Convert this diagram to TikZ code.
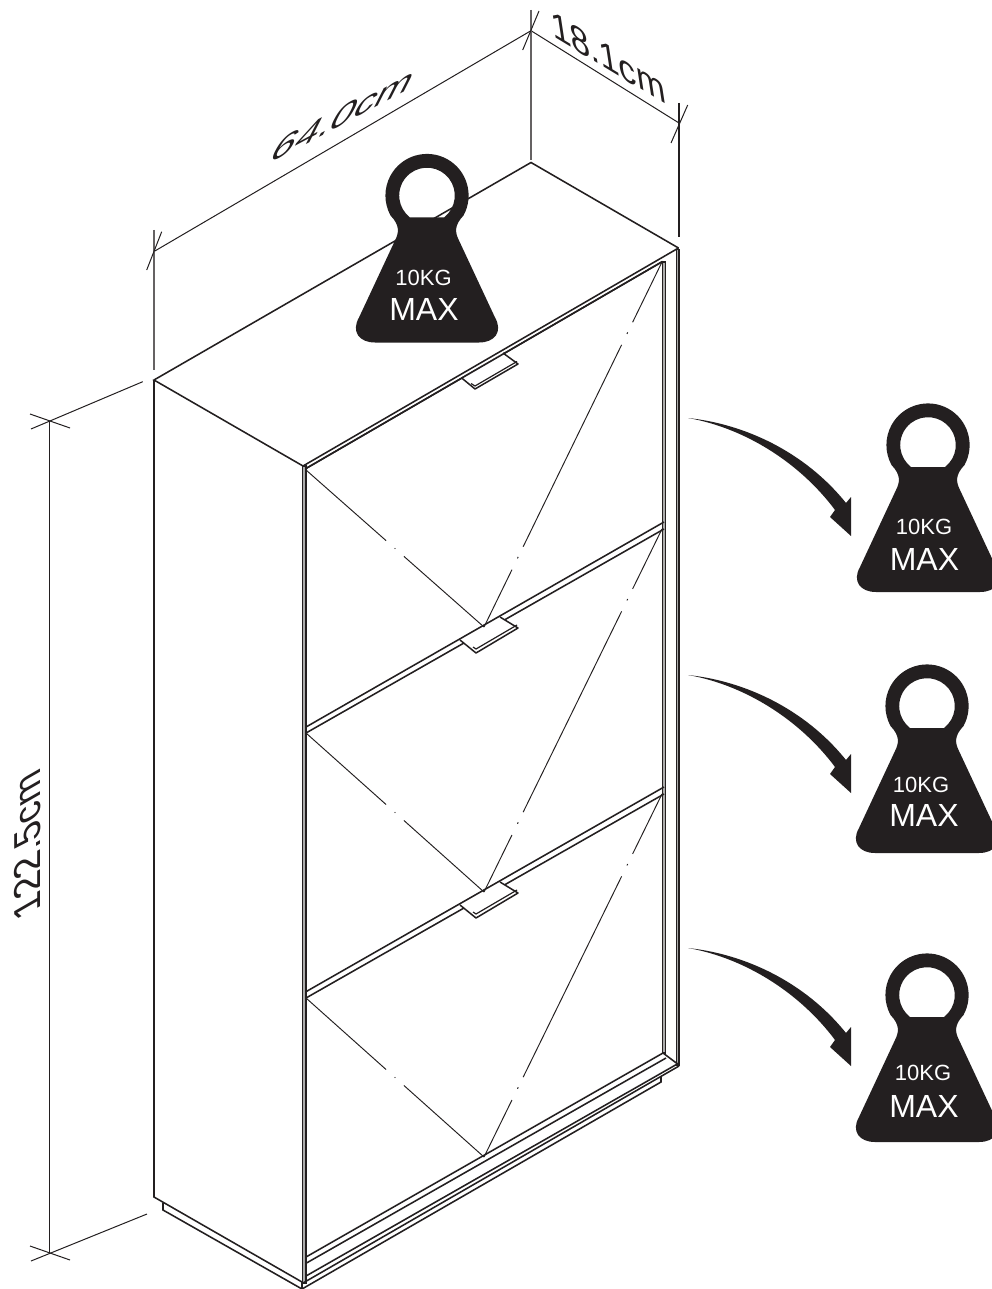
\documentclass[tikz,border=0pt]{standalone}
\usepackage{fontspec}
\setmainfont{Liberation Sans}
\usetikzlibrary{calc}
\definecolor{ink}{HTML}{231F20}
\tikzset{
  edge/.style={draw=ink,line width=1.55pt,line join=miter},
  dimline/.style={draw=ink,line width=1pt},
  guide/.style={draw=ink!70,line width=1.2pt},
  thin diag/.style={draw=ink,line width=0.95pt},
  band/.style={fill=gray!65,draw=ink,line width=1.15pt},
  handlebox/.style={fill=white,draw=ink,line width=1.5pt,line join=round},
  handleinner/.style={draw=ink,line width=1.2pt,line join=round},
  wlabel/.style={text=white,inner sep=0pt},
  dimtext/.style={text=ink,inner sep=0pt,font=\fontsize{30}{30}\selectfont},
  weightbody/.pic={
    \fill[ink,even odd rule,y=1pt]
      (0,-147) -- (52,-147) .. controls (68,-147) and (76,-136) .. (68,-122)
      -- (32,-45) .. controls (28,-37) and (27,-30) .. (36.5,-20)
      arc[start angle=-28.7,end angle=208.7,radius=41.6]
      .. controls (-27,-30) and (-28,-37) .. (-32,-45)
      -- (-68,-122) .. controls (-76,-136) and (-68,-147) .. (-52,-147) -- cycle
      (-17,-22) -- (17,-22) arc[start angle=-52.3,end angle=232.3,radius=27.8] -- cycle;
  },
  swoosh/.pic={
    \fill[ink] (688,418) .. controls (745,424) and (805,452) .. (846,503)
      -- (851,497) -- (851,536) -- (830,517) -- (835,510)
      .. controls (800,463) and (745,428) .. (688,418) -- cycle;
  }
}
\newcommand{\diagleft}[2]{%
  \draw[thin diag] (#1) -- ($(#1)!0.45!(#2)$);
  \draw[thin diag] ($(#1)!0.498!(#2)$) -- ($(#1)!0.502!(#2)$);
  \draw[thin diag] ($(#1)!0.55!(#2)$) -- (#2);
}
\newcommand{\diagright}[2]{%
  \draw[thin diag] (#1) -- ($(#1)!0.157!(#2)$);
  \draw[thin diag] ($(#1)!0.188!(#2)$) -- ($(#1)!0.192!(#2)$);
  \draw[thin diag] ($(#1)!0.22!(#2)$) -- ($(#1)!0.773!(#2)$);
  \draw[thin diag] ($(#1)!0.803!(#2)$) -- ($(#1)!0.807!(#2)$);
  \draw[thin diag] ($(#1)!0.835!(#2)$) -- (#2);
}
\begin{document}
\begin{tikzpicture}[x=1pt,y=-1pt]
\clip (0,0) rectangle (992,1289);
\fill[white] (0,0) rectangle (992,1289);

% dimension lines
\coordinate (dl) at (154,251.5);
\coordinate (dm) at (531,30.7);
\coordinate (dr) at (679,123);
\draw[dimline] (dl) -- (dm) -- (dr);
\draw[guide] (154,230) -- (154,370);
\draw[guide] (531,10) -- (531,160);
\draw[dimline,line width=1.1pt] (679,103) -- (679,237);
\draw[dimline] (161.7,231.7) -- (146.7,270);
\draw[dimline] (539,11) -- (522.7,50);
\draw[dimline] (687.7,105) -- (671,143);

\coordinate (vt) at (49.7,421);
\coordinate (vb) at (49.7,1253);
\draw[dimline] (vt) -- (vb);
\draw[dimline] (31,429) -- (142.7,381.7);
\draw[dimline] (30,414) -- (70,428);
\draw[dimline] (31,1261) -- (147,1214);
\draw[dimline] (30,1246) -- (70,1260);

% cabinet outline
\draw[edge] (303,466) -- (154,380) -- (531,162.5) -- (678.5,248);
\draw[edge] (154,380) -- (154,1197) -- (302,1282);
\draw[edge] (163,1203) -- (163,1210) -- (302,1289) -- (661,1082) -- (661,1077);
\draw[edge] (302,1282) -- (302,1289);

% frame bands
\draw[band] (302.6,466) rectangle (306,1283);
\draw[band] (662.4,262) rectangle (665.4,1053);
\draw[band] (676.3,249.5) rectangle (679,1065);

% top edge
\draw[edge] (303,466) -- (678.5,248);
\draw[edge] (306,468.5) -- (662.5,261.5);

% base
\draw[edge] (306.5,1256.7) -- (663,1053) -- (679,1065);
\draw[edge] (306.5,1263) -- (666,1058);
\draw[edge] (306,1276) -- (679,1063);
\draw[edge] (303,1283) -- (679,1066);

% gap lines lower
\draw[edge] (306,733) -- (664,529);
\draw[edge] (306,998) -- (664,794);

% handles
\draw[handlebox] (461.7,378) -- (475,389) -- (518,364) -- (503,353);
\draw[handleinner] (471,383.5) -- (475,386) -- (517,361.5);
\draw[handlebox] (460,640) -- (476,653) -- (518,628) -- (500,617);
\draw[handleinner] (473,647) -- (476,649) -- (517,625);
\draw[handlebox] (460,905) -- (476,918) -- (518,893) -- (500,882);
\draw[handleinner] (473,912) -- (476,914) -- (517,890);

% gap lines upper
\draw[edge] (306,727) -- (664,522);
\draw[edge] (306,991.7) -- (664,787);
\draw[edge] (306,468.5) -- (662.5,261.5);

% diagonals
\coordinate (d1l) at (306,470);
\coordinate (d1r) at (662,262);
\coordinate (a1) at (484,627);
\coordinate (d2l) at (306,733);
\coordinate (d2r) at (662,529);
\coordinate (a2) at (484,892);
\coordinate (d3l) at (306,998);
\coordinate (d3r) at (662,794);
\coordinate (a3) at (484,1157);
\diagleft{d1l}{a1}\diagright{a1}{d1r}
\diagleft{d2l}{a2}\diagright{a2}{d2r}
\diagleft{d3l}{a3}\diagright{a3}{d3r}

% arrows
\pic at (0,0) {swoosh};
\pic at (0,257) {swoosh};
\pic at (0,530) {swoosh};

% weights
\pic at (427,195.5) {weightbody};
\pic at (928,445) {weightbody};
\pic at (927,706) {weightbody};
\pic at (927,995) {weightbody};
\node[wlabel,font=\fontsize{22}{22}\selectfont] (t10) at (423.5,277.5) {10KG};
\node[wlabel,font=\fontsize{32}{32}\selectfont] (tm) at (424,309) {MAX};
\node[wlabel,font=\fontsize{22}{22}\selectfont] (a10) at (924,527) {10KG};
\node[wlabel,font=\fontsize{32}{32}\selectfont] (am) at (924.5,559) {MAX};
\node[wlabel,font=\fontsize{22}{22}\selectfont] (b10) at (921,785) {10KG};
\node[wlabel,font=\fontsize{32}{32}\selectfont] (bm) at (924,815) {MAX};
\node[wlabel,font=\fontsize{22}{22}\selectfont] (c10) at (923,1073) {10KG};
\node[wlabel,font=\fontsize{32}{32}\selectfont] (cm) at (924,1106) {MAX};

% dimension texts
\node[dimtext,cm={1.42,0.76,0.62,1.22,(0,0)}] (w) at (344,115) {64.0cm};
\node[dimtext,cm={1.16,-0.70,-0.2,1.30,(0,0)}] (d) at (608,57.5) {18.1cm};
\node[dimtext,cm={0,1.24,-1.25,-0.72,(0,0)}] (h) at (28,845.5) {122.5cm};
\end{tikzpicture}
\end{document}
